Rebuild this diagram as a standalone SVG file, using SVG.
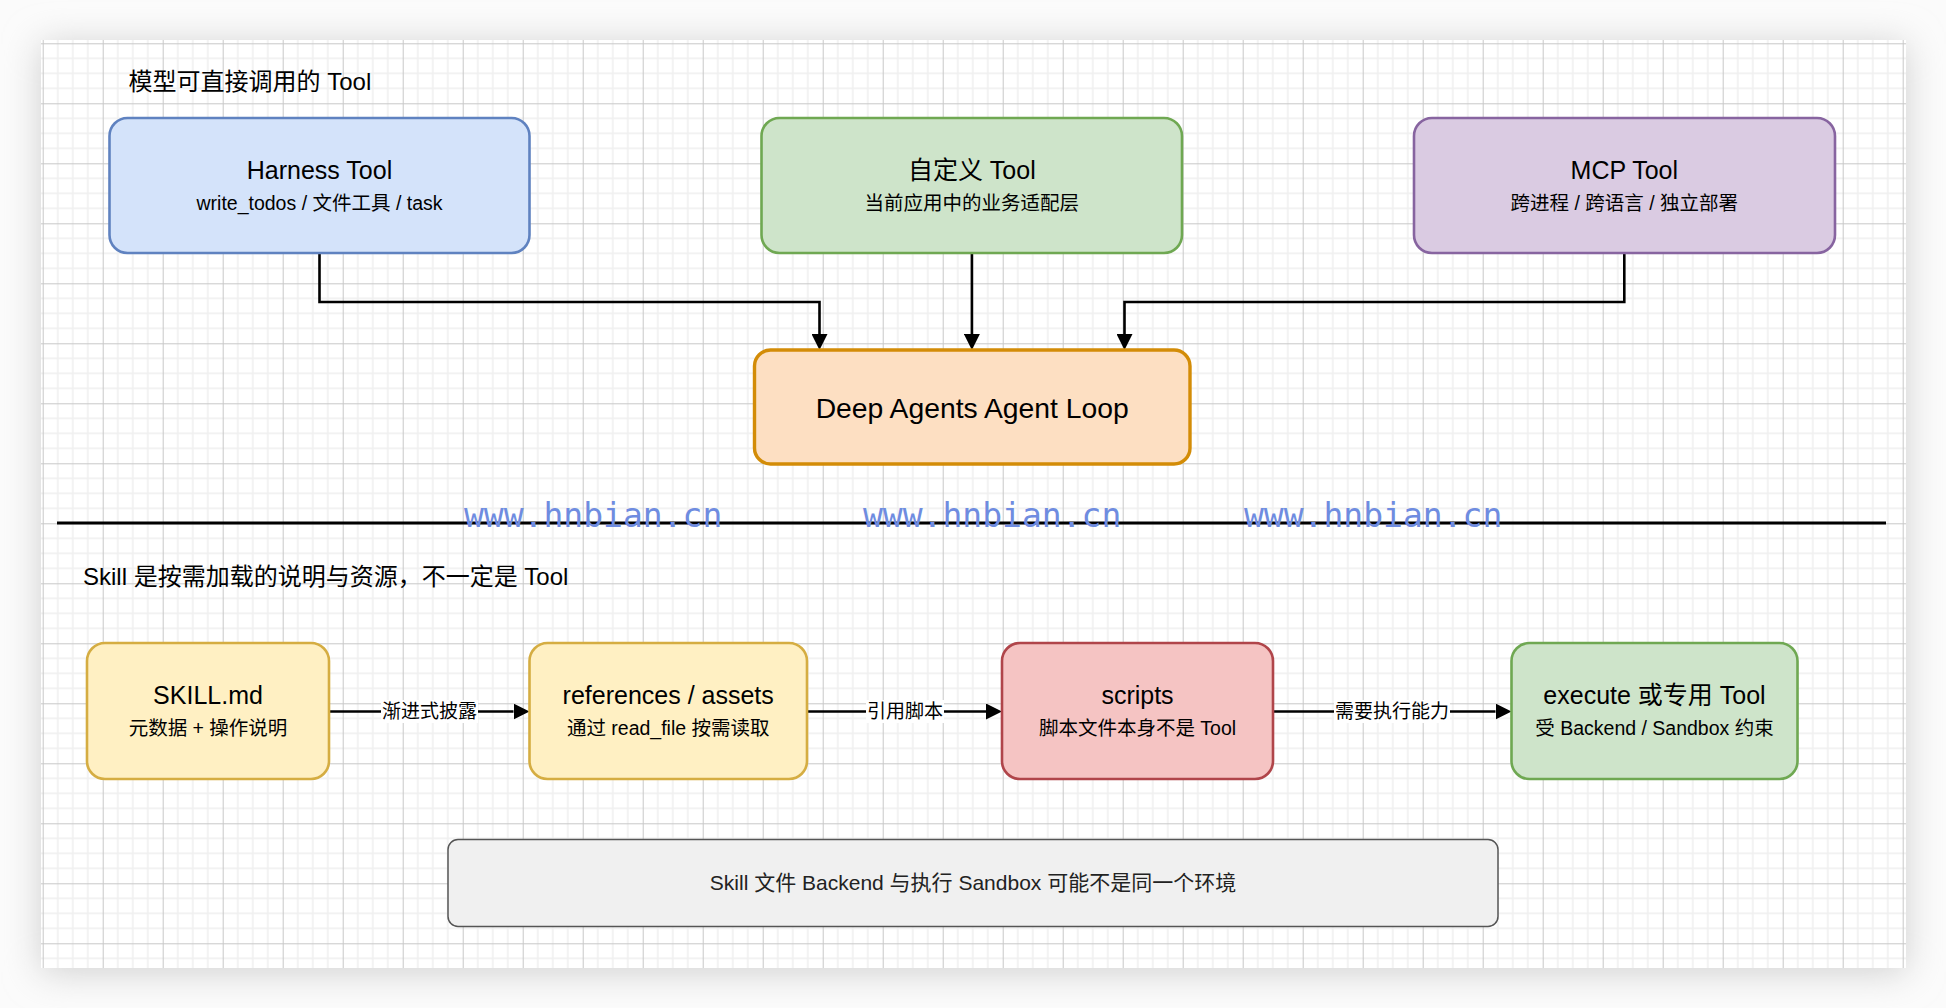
<svg xmlns="http://www.w3.org/2000/svg" width="1946" height="1008" viewBox="0 0 1946 1008">
  <defs>
    <pattern id="grid" patternUnits="userSpaceOnUse" x="42.7" y="43.3" width="60" height="60">
      <rect x="0" y="0" width="60" height="60" fill="#ffffff"/>
      <g fill="#f0f0f0">
        <rect x="14.3" y="0" width="1.6" height="60"/>
        <rect x="29.3" y="0" width="1.6" height="60"/>
        <rect x="44.3" y="0" width="1.6" height="60"/>
        <rect x="0" y="14.3" width="60" height="1.6"/>
        <rect x="0" y="29.3" width="60" height="1.6"/>
        <rect x="0" y="44.3" width="60" height="1.6"/>
      </g>
      <g fill="#c8c8c8">
        <rect x="0" y="0" width="1" height="60"/>
        <rect x="0" y="0" width="60" height="1"/>
      </g>
    </pattern>
    <filter id="shadow" x="-10%" y="-10%" width="120%" height="120%">
      <feGaussianBlur stdDeviation="18"/>
    </filter>
    <marker id="arrow" viewBox="0 0 16 16" refX="0" refY="8" markerWidth="16" markerHeight="16" markerUnits="userSpaceOnUse" orient="auto">
      <path d="M0,0 L16,8 L0,16 z" fill="#000"/>
    </marker>
    <style>
      text { font-family: "Liberation Sans", "Noto Sans CJK SC", sans-serif; fill: #000; }
      .title { font-size: 25px; text-anchor: middle; }
      .sub { font-size: 19.5px; text-anchor: middle; }
      .head { font-size: 24px; }
      .lbl { font-size: 19px; text-anchor: middle; }
      .lblbg { fill: #ffffff; }
      .box { stroke-width: 2.6; }
      .conn { fill: none; stroke: #000; stroke-width: 2.6; }
      .wm { font-family: "DejaVu Sans Mono", "Liberation Mono", monospace; font-size: 33px; fill: #6f8ce0; }
    </style>
  </defs>

  <rect x="0" y="0" width="1946" height="1008" fill="#fbfbfb"/>
  <rect x="41" y="44" width="1865" height="928" fill="#cfcfcf" filter="url(#shadow)"/>
  <rect x="41" y="40" width="1865" height="928" fill="url(#grid)"/>

  <text class="head" x="128.6" y="90">模型可直接调用的 Tool</text>
  <text class="head" x="83" y="585">Skill 是按需加载的说明与资源，不一定是 Tool</text>

  <g id="connectors">
    <path class="conn" d="M319.5,253 V302 H819.5 V334" marker-end="url(#arrow)"/>
    <path class="conn" d="M971.9,253 V334" marker-end="url(#arrow)"/>
    <path class="conn" d="M1624.3,253 V302 H1124.5 V334" marker-end="url(#arrow)"/>
    <path class="conn" d="M329,711.5 H513.5" marker-end="url(#arrow)"/>
    <path class="conn" d="M807,711.5 H986" marker-end="url(#arrow)"/>
    <path class="conn" d="M1273,711.5 H1495.5" marker-end="url(#arrow)"/>
    <rect class="lblbg" x="381" y="700" width="97" height="23"/>
    <text class="lbl" x="429.6" y="718">渐进式披露</text>
    <rect class="lblbg" x="866" y="700" width="78" height="23"/>
    <text class="lbl" x="905" y="718">引用脚本</text>
    <rect class="lblbg" x="1334" y="700" width="116" height="23"/>
    <text class="lbl" x="1392" y="718">需要执行能力</text>
  </g>

  <g id="harness-tool">
    <rect class="box" x="109.5" y="118" width="420" height="135" rx="18" fill="#d4e3fa" stroke="#5f82c0"/>
    <text class="title" x="319.5" y="179">Harness Tool</text>
    <text class="sub" x="319.5" y="209.5">write_todos / 文件工具 / task</text>
  </g>

  <g id="custom-tool">
    <rect class="box" x="761.5" y="118" width="420.5" height="135" rx="18" fill="#cee4ca" stroke="#6fa852"/>
    <text class="title" x="971.8" y="179">自定义 Tool</text>
    <text class="sub" x="971.8" y="209.5">当前应用中的业务适配层</text>
  </g>

  <g id="mcp-tool">
    <rect class="box" x="1414" y="118" width="421" height="135" rx="18" fill="#dacbe2" stroke="#8764a0"/>
    <text class="title" x="1624.3" y="179">MCP Tool</text>
    <text class="sub" x="1624.3" y="209.5">跨进程 / 跨语言 / 独立部署</text>
  </g>

  <g id="agent-loop">
    <rect x="754.5" y="350" width="435.5" height="114" rx="16" fill="#fddfc2" stroke="#d38c07" stroke-width="3.4"/>
    <text x="972.2" y="418" font-size="28.3" text-anchor="middle">Deep Agents Agent Loop</text>
  </g>

  <g id="divider">
    <line x1="57" y1="523" x2="1886" y2="523" stroke="#000" stroke-width="3"/>
  </g>

  <g id="skill-md">
    <rect class="box" x="87" y="643" width="242" height="136" rx="18" fill="#fff0c3" stroke="#d5ad42"/>
    <text class="title" x="208" y="704">SKILL.md</text>
    <text class="sub" x="208" y="735">元数据 + 操作说明</text>
  </g>

  <g id="references">
    <rect class="box" x="529.5" y="643" width="277.5" height="136" rx="18" fill="#fff0c3" stroke="#d5ad42"/>
    <text class="title" x="668.2" y="704">references / assets</text>
    <text class="sub" x="668.2" y="735">通过 read_file 按需读取</text>
  </g>

  <g id="scripts">
    <rect class="box" x="1002" y="643" width="271" height="136" rx="18" fill="#f5c4c3" stroke="#b0454a"/>
    <text class="title" x="1137.5" y="704">scripts</text>
    <text class="sub" x="1137.5" y="735">脚本文件本身不是 Tool</text>
  </g>

  <g id="execute">
    <rect class="box" x="1511.5" y="643" width="286" height="136" rx="18" fill="#cee4ca" stroke="#6fa852"/>
    <text class="title" x="1654.5" y="704">execute 或专用 Tool</text>
    <text class="sub" x="1654.5" y="735">受 Backend / Sandbox 约束</text>
  </g>

  <g id="note">
    <rect x="448" y="839.5" width="1050" height="87" rx="10" fill="#f0f0f0" stroke="#555555" stroke-width="1.5"/>
    <text x="973" y="890" font-size="21" text-anchor="middle" style="fill:#222">Skill 文件 Backend 与执行 Sandbox 可能不是同一个环境</text>
  </g>

  <g id="watermark">
    <text class="wm" x="464" y="527">www.hnbian.cn</text>
    <text class="wm" x="863" y="527">www.hnbian.cn</text>
    <text class="wm" x="1244" y="527">www.hnbian.cn</text>
  </g>
</svg>
